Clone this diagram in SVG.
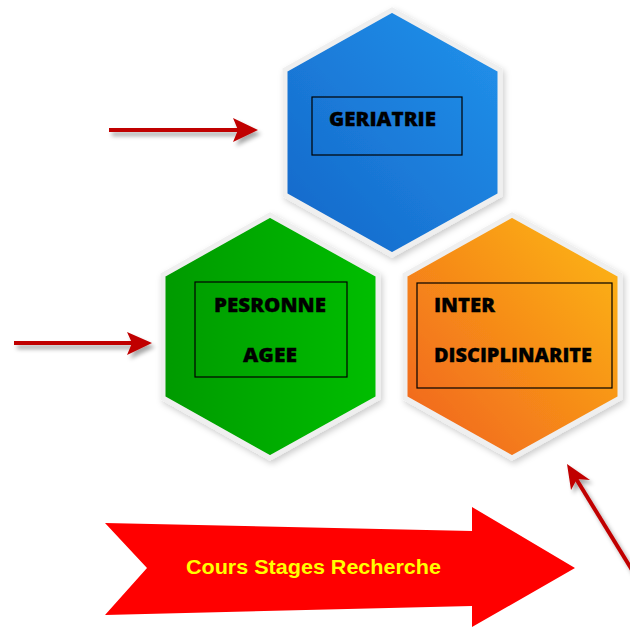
<svg xmlns="http://www.w3.org/2000/svg" width="630" height="628" viewBox="0 0 630 628">
<defs>
<linearGradient id="gBlue" x1="1" y1="0" x2="0" y2="1"><stop offset="0" stop-color="#2293EC"/><stop offset="1" stop-color="#1466C8"/></linearGradient>
<linearGradient id="gGreen" x1="0" y1="0" x2="1" y2="0"><stop offset="0" stop-color="#009A00"/><stop offset="1" stop-color="#00BE00"/></linearGradient>
<linearGradient id="gOrange" x1="1" y1="0" x2="0" y2="1"><stop offset="0" stop-color="#FDBA12"/><stop offset="1" stop-color="#F0601F"/></linearGradient>
<filter id="hexShadow" x="-10%" y="-10%" width="125%" height="125%"><feDropShadow dx="2" dy="3" stdDeviation="3" flood-color="#000" flood-opacity="0.2"/></filter>
<filter id="arrShadow" x="-10%" y="-50%" width="130%" height="250%"><feDropShadow dx="3" dy="4" stdDeviation="2" flood-color="#000" flood-opacity="0.35"/></filter>
</defs>
<style>
.hex{stroke:#EFEFEF;stroke-width:5;stroke-linejoin:miter;filter:url(#hexShadow)}
.box{fill:none;stroke:#000;stroke-width:1.2}
.lbl{font-family:"Open Sans","Liberation Sans",sans-serif;font-weight:800;font-size:19px;fill:#000;stroke:#000;stroke-width:0.3}
.arrhead{fill:#C00000}
</style>
<g id="geriatrie">
<polygon class="hex" fill="url(#gBlue)" points="392,10 500,70 500,195 392,255 285,195 285,70"/>
<rect class="box" x="312" y="97" width="150" height="58"/>
<text class="lbl" x="329" y="126" textLength="107" lengthAdjust="spacingAndGlyphs">GERIATRIE</text>
</g>
<g id="personne-agee">
<polygon class="hex" fill="url(#gGreen)" points="270,215 378,275 378,398 270,458 163,398 163,275"/>
<rect class="box" x="195" y="282" width="152" height="95"/>
<text class="lbl" x="214" y="312" textLength="112" lengthAdjust="spacingAndGlyphs">PESRONNE</text>
<text class="lbl" x="243" y="362" textLength="54" lengthAdjust="spacingAndGlyphs">AGEE</text>
</g>
<g id="interdisciplinarite">
<polygon class="hex" fill="url(#gOrange)" points="512,215 620,275 620,398 512,458 405,398 405,275"/>
<rect class="box" x="417" y="283" width="195" height="105"/>
<text class="lbl" x="434" y="312" textLength="61" lengthAdjust="spacingAndGlyphs">INTER</text>
<text class="lbl" x="434" y="362" textLength="158" lengthAdjust="spacingAndGlyphs">DISCIPLINARITE</text>
</g>
<g id="cours-stages-recherche">
<polygon fill="#FF0000" points="105,523 472,531 472,507 575,568 472,627 472,606 105,615 147,568"/>
<text x="186" y="574" textLength="255" lengthAdjust="spacingAndGlyphs" style="font-family:'Liberation Sans',Arial,sans-serif;font-weight:bold;font-size:20px;fill:#FFFF00">Cours Stages Recherche</text>
</g>
<g id="connectors">
<g filter="url(#arrShadow)">
<line x1="109" y1="130" x2="240" y2="130" stroke="#C00000" stroke-width="4"/>
<polygon class="arrhead" points="233,118 258,130 233,142 238,130"/>
</g>
<g filter="url(#arrShadow)">
<line x1="14" y1="343" x2="135" y2="343" stroke="#C00000" stroke-width="4"/>
<polygon class="arrhead" points="127,332 152,343 127,355 132,343"/>
</g>
<g filter="url(#arrShadow)">
<line x1="640" y1="583" x2="575" y2="477" stroke="#C00000" stroke-width="4"/>
<polygon class="arrhead" points="567,464 590,480 577,479 571,490"/>
</g>
</g>
</svg>
